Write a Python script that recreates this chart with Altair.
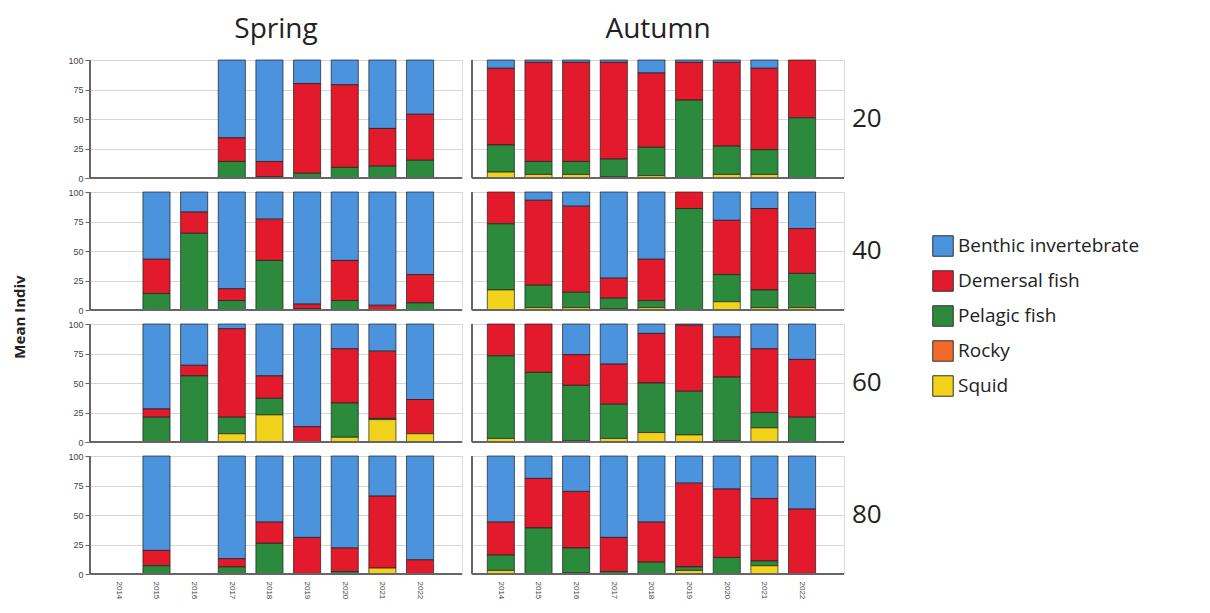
import altair as alt
import pandas as pd

years = [2014, 2015, 2016, 2017, 2018, 2019, 2020, 2021, 2022]
seasons = ["Spring", "Autumn"]
depths = [20, 40, 60, 80]
categories = ["Benthic invertebrate", "Demersal fish", "Pelagic fish", "Rocky", "Squid"]
colors = ["#4b93dd", "#e31a2b", "#2b8a3c", "#f26a2a", "#f2d21a"]
stack_order = {"Squid": 0, "Rocky": 1, "Pelagic fish": 2, "Demersal fish": 3, "Benthic invertebrate": 4}
y_ticks = [0, 25, 50, 75, 100]

squid = {
    ("Spring", 20): [0, 0, 0, 0, 0, 0, 0, 0, 0],
    ("Autumn", 20): [5, 3, 3, 1, 2, 0, 3, 3, 0],
    ("Spring", 40): [0, 0, 0, 0, 0, 0, 0, 0, 0],
    ("Autumn", 40): [17, 2, 2, 1, 2, 0, 7, 2, 2],
    ("Spring", 60): [0, 0, 0, 7, 23, 0, 4, 19, 7],
    ("Autumn", 60): [3, 0, 1, 3, 8, 6, 1, 12, 0],
    ("Spring", 80): [0, 0, 0, 0, 0, 0, 0, 5, 0],
    ("Autumn", 80): [3, 0, 1, 0, 0, 3, 0, 7, 0],
}
rocky = {k: [0] * 9 for k in squid}
pelagic = {
    ("Spring", 20): [0, 0, 0, 14, 1, 4, 9, 10, 15],
    ("Autumn", 20): [23, 11, 11, 15, 24, 66, 24, 21, 51],
    ("Spring", 40): [0, 14, 65, 8, 42, 1, 8, 0, 6],
    ("Autumn", 40): [56, 19, 13, 9, 6, 86, 23, 15, 29],
    ("Spring", 60): [0, 21, 56, 14, 14, 0, 29, 1, 0],
    ("Autumn", 60): [70, 59, 47, 29, 42, 37, 54, 13, 21],
    ("Spring", 80): [0, 7, 0, 6, 26, 0, 2, 0, 0],
    ("Autumn", 80): [13, 39, 21, 2, 10, 3, 14, 4, 0],
}
demersal = {
    ("Spring", 20): [0, 0, 0, 20, 13, 76, 70, 32, 39],
    ("Autumn", 20): [65, 84, 84, 82, 63, 32, 71, 69, 49],
    ("Spring", 40): [0, 29, 18, 10, 35, 4, 34, 4, 24],
    ("Autumn", 40): [27, 72, 73, 17, 35, 14, 46, 69, 38],
    ("Spring", 60): [0, 7, 9, 75, 19, 13, 46, 57, 29],
    ("Autumn", 60): [27, 41, 26, 34, 42, 56, 34, 54, 49],
    ("Spring", 80): [0, 13, 0, 7, 18, 31, 20, 61, 12],
    ("Autumn", 80): [28, 42, 48, 29, 34, 71, 58, 53, 55],
}
benthic = {
    ("Spring", 20): [0, 0, 0, 66, 86, 20, 21, 58, 46],
    ("Autumn", 20): [7, 2, 2, 2, 11, 2, 2, 7, 0],
    ("Spring", 40): [0, 57, 17, 82, 23, 95, 58, 96, 70],
    ("Autumn", 40): [0, 7, 12, 73, 57, 0, 24, 14, 31],
    ("Spring", 60): [0, 72, 35, 4, 44, 87, 21, 23, 64],
    ("Autumn", 60): [0, 0, 26, 34, 8, 1, 11, 21, 30],
    ("Spring", 80): [0, 80, 0, 87, 56, 69, 78, 34, 88],
    ("Autumn", 80): [56, 19, 30, 69, 56, 23, 28, 36, 45],
}

series = {
    "Benthic invertebrate": benthic,
    "Demersal fish": demersal,
    "Pelagic fish": pelagic,
    "Rocky": rocky,
    "Squid": squid,
}

rows = []
for cat, table in series.items():
    for (season, depth), vals in table.items():
        for yr, v in zip(years, vals):
            rows.append({"Season": season, "Depth": depth, "Year": yr,
                         "Category": cat, "Value": v, "Order": stack_order[cat]})
df = pd.DataFrame(rows)
df = df[df["Value"] > 0]

FONT = "Open Sans"

y_axis = alt.Axis(title=None, values=y_ticks, tickCount=5, labelFontSize=9,
                  labelOverlap=False, labelColor="#444", tickSize=4,
                  tickColor="#666", domainColor="#666", gridColor="#d6d6d6")

bars = alt.Chart().mark_bar(stroke="#1c1c1c", strokeWidth=0.7).encode(
    x=alt.X("Year:O", sort=years,
            scale=alt.Scale(domain=years, paddingInner=0.28, paddingOuter=0.58, align=0.35),
            axis=alt.Axis(title=None, labelAngle=90, labelFontSize=8, labelColor="#444",
                          labelPadding=6, ticks=False, domain=False)),
    y=alt.Y("Value:Q", stack="zero",
            scale=alt.Scale(domain=[0, 100], nice=False),
            axis=y_axis),
    color=alt.Color("Category:N",
                    scale=alt.Scale(domain=categories, range=colors),
                    legend=alt.Legend(title=None, orient="none", legendX=842, legendY=175,
                                      symbolType="square", symbolSize=420,
                                      symbolStrokeColor="#333", symbolStrokeWidth=1,
                                      labelFontSize=19, labelFont=FONT, labelColor="#222",
                                      labelLimit=0, rowPadding=9, symbolOffset=0,
                                      labelOffset=4)),
    order=alt.Order("Order:Q"),
)

base_rule = alt.Chart().mark_rule(color="#666", strokeWidth=1).encode(
    y=alt.YDatum(0, axis=y_axis))
left_rule = alt.Chart().mark_rule(color="#666", strokeWidth=1).encode(
    x=alt.value(0), y=alt.value(0), y2=alt.value(118))

chart = alt.layer(bars, base_rule, left_rule, data=df).properties(
    width=372, height=118
).facet(
    row=alt.Row("Depth:O", sort=depths,
                header=alt.Header(title="Mean Indiv", titleOrient="left", labelOrient="right",
                                  titleFont=FONT, titleFontSize=15, titleFontWeight="bold",
                                  titleColor="#222", titlePadding=29,
                                  labelFont=FONT, labelFontSize=26, labelColor="#222",
                                  labelAngle=0, labelPadding=7)),
    column=alt.Column("Season:N", sort=seasons,
                      header=alt.Header(title=None, labelFont=FONT, labelFontSize=28,
                                        labelColor="#222", labelPadding=15)),
    spacing={"row": 12, "column": 8},
).properties(
    padding={"left": 5, "top": 8, "right": 5, "bottom": 5}
).configure_view(stroke=None).configure(background="white")

chart.save("out.html", embed_options={"renderer": "svg", "actions": False})
